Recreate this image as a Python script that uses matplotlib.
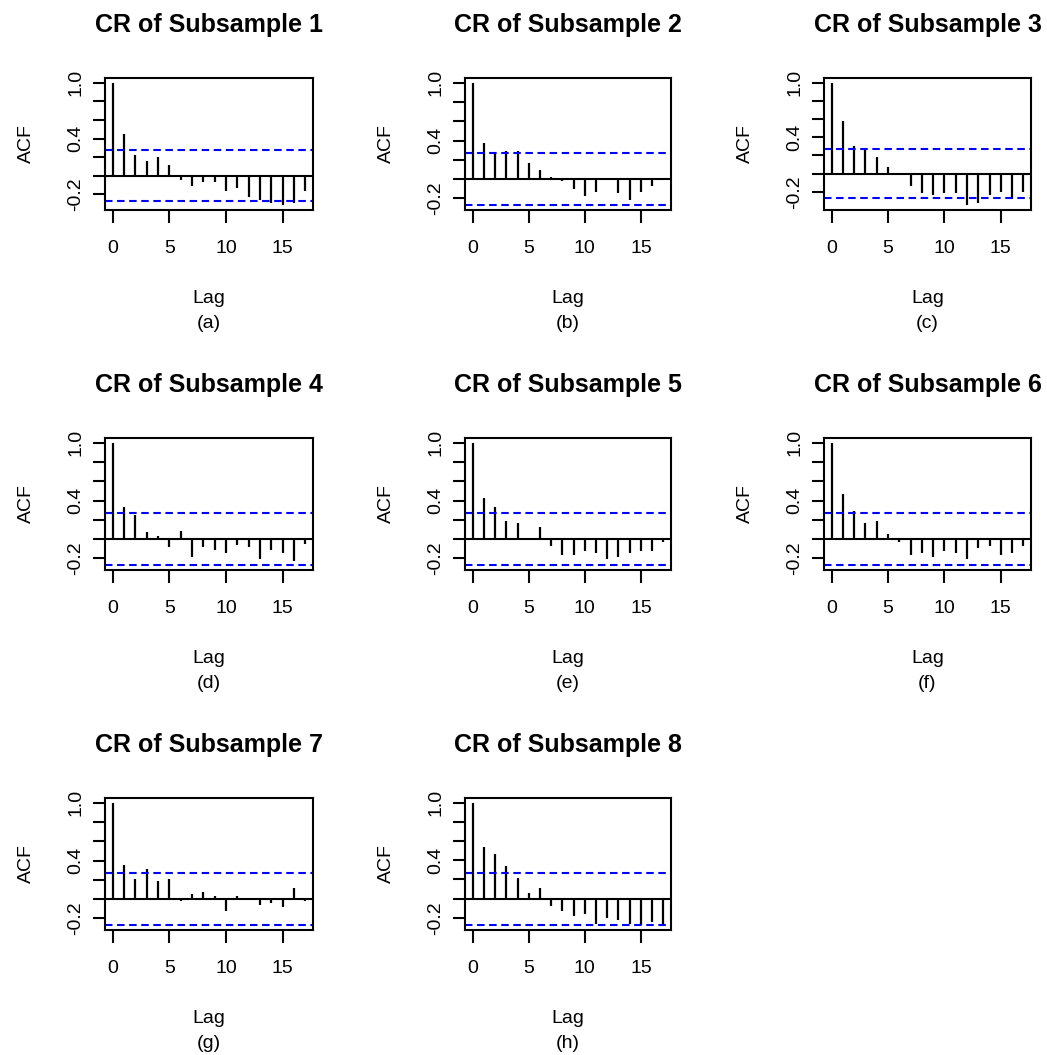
import matplotlib
matplotlib.use("Agg")
import matplotlib.pyplot as plt
import numpy as np

plt.rcParams['font.family'] = ['Liberation Sans', 'DejaVu Sans']

lags = list(range(18))
ci_bound = 0.272

acf_1 = [1.0, 0.446, 0.218, 0.154, 0.196, 0.111, -0.046, -0.107, -0.068, -0.068,
         -0.171, -0.129, -0.229, -0.264, -0.300, -0.318, -0.296, -0.171]
acf_2 = [1.0, 0.375, 0.263, 0.295, 0.295, 0.168, 0.091, 0.025, -0.025, -0.109,
         -0.172, -0.133, 0.004, -0.151, -0.214, -0.133, -0.070, 0.003]
acf_3 = [1.0, 0.584, 0.307, 0.263, 0.179, 0.073, 0.005, -0.131, -0.219, -0.241,
         -0.219, -0.219, -0.347, -0.325, -0.241, -0.197, -0.277, -0.197]
acf_4 = [1.0, 0.329, 0.247, 0.068, 0.027, -0.086, 0.086, -0.188, -0.086, -0.110,
         -0.147, -0.065, -0.086, -0.209, -0.110, -0.147, -0.229, -0.048]
acf_5 = [1.0, 0.428, 0.329, 0.185, 0.164, 0.003, 0.127, -0.068, -0.168, -0.168,
         -0.130, -0.151, -0.209, -0.188, -0.147, -0.130, -0.130, -0.027]
acf_6 = [1.0, 0.469, 0.288, 0.164, 0.185, 0.051, -0.027, -0.168, -0.147, -0.188,
         -0.130, -0.147, -0.209, -0.089, -0.068, -0.168, -0.147, -0.068]
acf_7 = [1.0, 0.351, 0.210, 0.309, 0.189, 0.210, -0.021, 0.052, 0.072, 0.031,
         -0.120, 0.027, -0.004, -0.062, -0.041, -0.086, 0.110, -0.021]
acf_8 = [1.0, 0.544, 0.463, 0.340, 0.214, 0.056, 0.112, -0.081, -0.126, -0.186,
         -0.165, -0.267, -0.207, -0.228, -0.267, -0.277, -0.246, -0.267]

series = [acf_1, acf_2, acf_3, acf_4, acf_5, acf_6, acf_7, acf_8]
titles = ["CR of Subsample %d" % i for i in range(1, 9)]
sublabels = ["(a)", "(b)", "(c)", "(d)", "(e)", "(f)", "(g)", "(h)"]
xticks = [0, 5, 10, 15]
yticks = [-0.2, 0.0, 0.2, 0.4, 0.6, 0.8, 1.0]
ytick_labels = ["-0.2", "", "", "0.4", "", "", "1.0"]

W, H = 1047, 1055
fig = plt.figure(figsize=(W / 100, H / 100), dpi=100)

col_px = [(105, 313), (465, 671), (824, 1031)]
row_px = [(78, 210), (438, 570), (798, 930)]

PX = 0.72  # points per pixel at 100 dpi

for i, vals in enumerate(series):
    r, c = divmod(i, 3)
    x0, x1 = col_px[c]
    y0, y1 = row_px[r]
    ax = fig.add_axes([x0 / W, 1 - y1 / H, (x1 - x0) / W, (y1 - y0) / H])
    lo = min(min(vals), -ci_bound)
    hi = max(max(vals), ci_bound)
    rng = hi - lo
    ax.set_ylim(lo - 0.04 * rng, hi + 0.04 * rng)
    ax.set_xlim(-0.04 * 17, 17 + 0.04 * 17)
    ax.vlines(lags, 0, vals, colors='black', linewidth=1.6)
    ax.axhline(0, color='black', linewidth=1.5)
    for yv in (ci_bound, -ci_bound):
        ax.axhline(yv, color='#0000FF', linewidth=1.5, linestyle=(0, (3.6, 2.2)))
    for s in ax.spines.values():
        s.set_linewidth(1.5)
    ax.set_xticks(xticks)
    ax.set_xticklabels([str(t) for t in xticks])
    ax.set_yticks(yticks)
    ax.set_yticklabels(ytick_labels, rotation=90, va='center')
    ax.tick_params(axis='x', length=9.5, width=1.5, pad=12, labelsize=14)
    ax.tick_params(axis='y', length=8.5, width=1.5, pad=6.5, labelsize=14)
    ax.annotate(titles[i], xy=(0.5, 1.0), xycoords='axes fraction',
                xytext=(0, 46 * PX), textcoords='offset points',
                ha='center', va='baseline', fontsize=18, fontweight='bold')
    ax.annotate("Lag", xy=(0.5, 0.0), xycoords='axes fraction',
                xytext=(0, -93 * PX), textcoords='offset points',
                ha='center', va='baseline', fontsize=14)
    ax.annotate(sublabels[i], xy=(0.5, 0.0), xycoords='axes fraction',
                xytext=(0, -118 * PX), textcoords='offset points',
                ha='center', va='baseline', fontsize=14)
    ax.annotate("ACF", xy=(0.0, 0.5), xycoords='axes fraction',
                xytext=(-79 * PX, 0), textcoords='offset points',
                ha='center', va='center', rotation=90, fontsize=14)

fig.savefig("out.png", dpi=100)
